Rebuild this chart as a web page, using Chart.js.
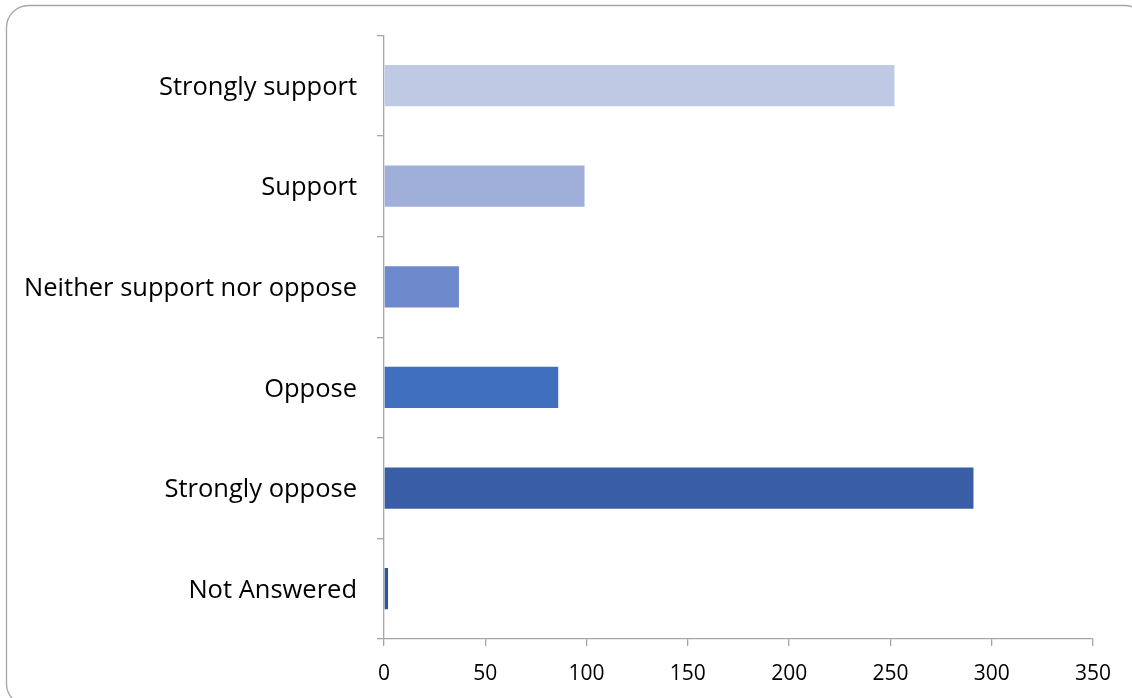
<!DOCTYPE html>
<html>
<head>
<meta charset="utf-8">
<script src="https://cdn.jsdelivr.net/npm/chart.js@4/dist/chart.umd.min.js"></script>
<style>
  html, body { margin: 0; padding: 0; background: #fff; }
  #wrap { width: 1132px; height: 698px; position: relative; }
</style>
</head>
<body>
<div id="wrap"><canvas id="c" width="1132" height="698"></canvas></div>
<script>
const categories = ["Strongly support", "Support", "Neither support nor oppose", "Oppose", "Strongly oppose", "Not Answered"];
const responseCounts = [252, 99, 37, 86, 291, 2];
const barColors = ["#BFC9E4", "#9FAFD9", "#6E8ACC", "#3F6EBD", "#395EA5", "#2F5597"];
const xTicks = [0, 50, 100, 150, 200, 250, 300, 350];

const frame = {
  id: 'frame',
  beforeDraw(chart) {
    const ctx = chart.ctx;
    ctx.save();
    ctx.fillStyle = '#fff';
    ctx.fillRect(0, 0, chart.width, chart.height);
    ctx.strokeStyle = '#A6A6A6';
    ctx.lineWidth = 1.3;
    ctx.beginPath();
    ctx.roundRect(6.5, 5.5, 1140, 700, 22);
    ctx.stroke();
    ctx.restore();
  }
};

new Chart(document.getElementById('c'), {
  type: 'bar',
  data: {
    labels: categories,
    datasets: [{
      data: responseCounts,
      backgroundColor: barColors,
      borderWidth: 0,
      barPercentage: 0.41,
      categoryPercentage: 1.0
    }]
  },
  options: {
    indexAxis: 'y',
    responsive: false,
    animation: false,
    layout: { padding: { left: 0, right: 39, top: 35, bottom: 0 } },
    plugins: { legend: { display: false }, tooltip: { enabled: false } },
    scales: {
      x: {
        min: 0, max: 350,
        afterBuildTicks(s) { s.ticks = xTicks.map(v => ({ value: v })); },
        afterFit(s) { s.height = 59; },
        grid: { drawOnChartArea: false, drawTicks: true, tickLength: 7, color: '#A6A6A6', lineWidth: 1.3 },
        border: { display: true, color: '#A6A6A6', width: 1.3 },
        ticks: { color: '#000', font: { family: 'Open Sans', size: 21 }, padding: 15, maxRotation: 0 }
      },
      y: {
        offset: true,
        afterFit(s) { s.width = 384; },
        grid: { offset: true, drawOnChartArea: false, drawTicks: true, tickLength: 7, color: '#A6A6A6', lineWidth: 1.3 },
        border: { display: true, color: '#A6A6A6', width: 1.3 },
        ticks: { color: '#000', font: { family: 'Open Sans', size: 25.5 }, padding: 20, labelOffset: 2 }
      }
    }
  },
  plugins: [frame]
});
</script>
</body>
</html>
